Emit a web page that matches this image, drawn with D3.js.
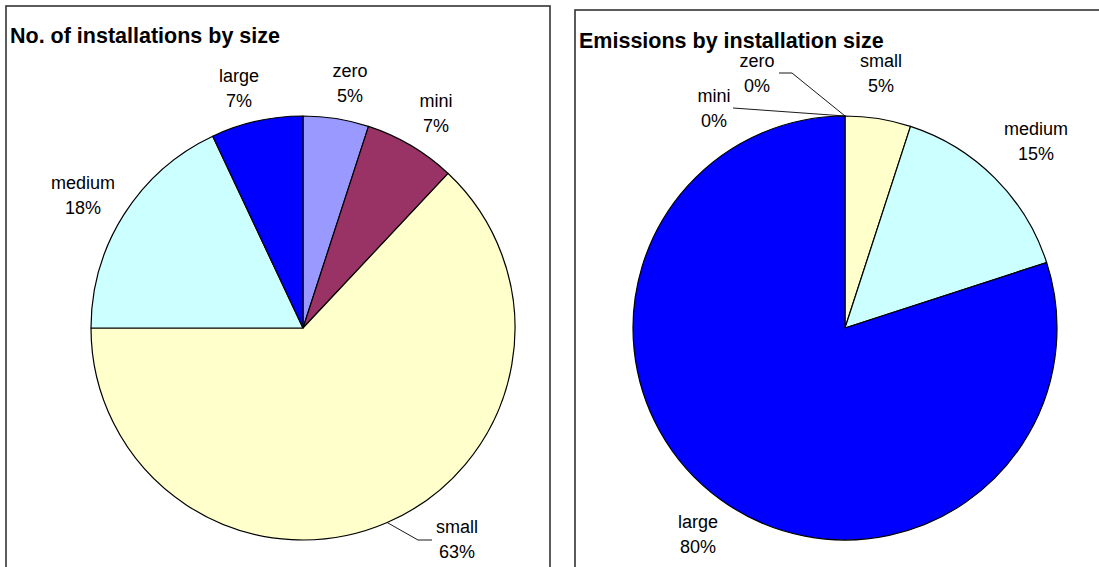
<!DOCTYPE html>
<html>
<head>
<meta charset="utf-8">
<script src="https://cdn.jsdelivr.net/npm/d3@7"></script>
<style>
  html, body { margin: 0; padding: 0; background: #fff; }
  svg { display: block; font-family: "Liberation Sans", Arial, sans-serif; }
</style>
</head>
<body>
<svg id="chart" width="1099" height="567"></svg>
<script>
// Size classes, shared by both pies
const categories = ["zero", "mini", "small", "medium", "large"];
// Share of installations (%)
const installationShares = [5, 7, 63, 18, 7];
// Share of emissions (%)
const emissionShares = [0, 0, 5, 15, 80];

const colors = d3.scaleOrdinal()
  .domain(categories)
  .range(["#9999FF", "#993366", "#FFFFCC", "#CCFFFF", "#0000FF"]);

const svg = d3.select("#chart");

// Panel layout: frame, title, pie centre and label anchors
const panels = [
  {
    title: "No. of installations by size",
    values: installationShares,
    frame: { x: 6, y: 6, w: 544, h: 600 },
    titlePos: { x: 10, y: 43 },
    cx: 303, cy: 328, r: 212,
    labels: {
      zero:   { x: 350, y: 77 },
      mini:   { x: 436, y: 107 },
      small:  { x: 457, y: 533, leader: [[418, 540], [432, 540]] },
      medium: { x: 83,  y: 189 },
      large:  { x: 239, y: 82 }
    }
  },
  {
    title: "Emissions by installation size",
    values: emissionShares,
    frame: { x: 575, y: 10, w: 560, h: 600 },
    titlePos: { x: 579, y: 48 },
    cx: 845, cy: 328, r: 212,
    labels: {
      zero:   { x: 757, y: 67,  leader: [[792, 73], [779, 73]] },
      mini:   { x: 714, y: 102, leader: [[740, 108.5], [733, 108]] },
      small:  { x: 881, y: 67 },
      medium: { x: 1036, y: 135 },
      large:  { x: 698, y: 528 }
    }
  }
];

const pie = d3.pie().sort(null).value(d => d.value);

panels.forEach(p => {
  const g = svg.append("g");

  g.append("rect")
    .attr("x", p.frame.x).attr("y", p.frame.y)
    .attr("width", p.frame.w).attr("height", p.frame.h)
    .attr("fill", "#fff")
    .attr("stroke", "#333").attr("stroke-width", 1.6);

  g.append("text")
    .attr("x", p.titlePos.x).attr("y", p.titlePos.y)
    .attr("font-size", 21.5).attr("font-weight", "bold").attr("fill", "#000")
    .text(p.title);

  const data = categories.map((c, i) => ({ name: c, value: p.values[i] }));
  const arcs = pie(data);
  const arc = d3.arc().innerRadius(0).outerRadius(p.r);

  const pg = g.append("g").attr("transform", `translate(${p.cx},${p.cy})`);
  pg.selectAll("path")
    .data(arcs)
    .join("path")
    .attr("d", arc)
    .attr("fill", d => colors(d.data.name))
    .attr("stroke", "#000")
    .attr("stroke-width", 1.2)
    .attr("stroke-linejoin", "round");

  // Leader lines from the slice edge to the label
  arcs.forEach(a => {
    const lab = p.labels[a.data.name];
    if (!lab.leader) return;
    const mid = (a.startAngle + a.endAngle) / 2;
    const start = [p.cx + p.r * Math.sin(mid), p.cy - p.r * Math.cos(mid)];
    g.append("path")
      .attr("d", d3.line()([start, ...lab.leader]))
      .attr("fill", "none")
      .attr("stroke", "#000")
      .attr("stroke-width", 0.9);
  });

  // Category and percentage labels
  arcs.forEach(a => {
    const lab = p.labels[a.data.name];
    const t = g.append("text")
      .attr("text-anchor", "middle")
      .attr("font-size", 18)
      .attr("fill", "#000");
    t.append("tspan").attr("x", lab.x).attr("y", lab.y).text(a.data.name);
    t.append("tspan").attr("x", lab.x).attr("y", lab.y + 25)
      .text(d3.format(".0f")(a.data.value) + "%");
  });
});
</script>
</body>
</html>
